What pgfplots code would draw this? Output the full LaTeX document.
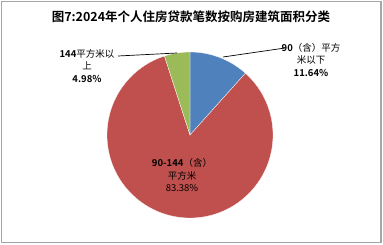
\documentclass[border=0pt]{standalone}
\usepackage{fontspec}
\setmainfont{Noto Sans CJK SC}[BoldFont=* Bold]
\usepackage{pgfplots}
\usepackage{pgfplotstable}
\pgfplotsset{compat=1.18}
\definecolor{cblue}{HTML}{4F81BD}
\definecolor{cred}{HTML}{C0504D}
\definecolor{cgreen}{HTML}{9BBB59}
% share (%), start angle, end angle (degrees, clockwise from 12 o'clock)
\pgfplotstableread{
share start end
11.64 0 41.904
83.38 41.904 342.072
4.98 342.072 360
}\piedata
\begin{document}
\begin{tikzpicture}[x=1pt,y=1pt]
\path[fill=white] (0,0) rectangle (383,244);
\draw[color=black!35, line width=1.2pt] (1.5,1.5) rectangle (381,242.5);
\node[font=\bfseries\fontsize{12.5}{14}\selectfont] at (191,227) {图7:2024年个人住房贷款笔数按购房建筑面积分类};
\begin{axis}[
  at={(190pt,109pt)}, anchor=center,
  scale only axis, width=166pt, height=166pt,
  xmin=-1, xmax=1, ymin=-1, ymax=1,
  hide axis, clip=false,
]
\pgfplotstablegetelem{0}{start}\of\piedata \let\sA\pgfplotsretval
\pgfplotstablegetelem{0}{end}\of\piedata \let\eA\pgfplotsretval
\pgfplotstablegetelem{1}{start}\of\piedata \let\sB\pgfplotsretval
\pgfplotstablegetelem{1}{end}\of\piedata \let\eB\pgfplotsretval
\pgfplotstablegetelem{2}{start}\of\piedata \let\sC\pgfplotsretval
\pgfplotstablegetelem{2}{end}\of\piedata \let\eC\pgfplotsretval
\addplot[fill=cblue, draw=white, line width=0.3pt, domain=\sA:\eA, samples=40, variable=\t] ({sin(\t)},{cos(\t)}) -- (axis cs:0,0) -- cycle;
\addplot[fill=cred, draw=white, line width=0.3pt, domain=\sB:\eB, samples=150, variable=\t] ({sin(\t)},{cos(\t)}) -- (axis cs:0,0) -- cycle;
\addplot[fill=cgreen, draw=white, line width=0.3pt, domain=\sC:\eC, samples=20, variable=\t] ({sin(\t)},{cos(\t)}) -- (axis cs:0,0) -- cycle;
\end{axis}
\draw[black, line width=0.7pt] (223,187) -- (285,196);
\draw[black, line width=0.7pt] (118,188) -- (177,191);
\node[align=center, font=\fontsize{9.5}{12.5}\selectfont] at (311,184) {\textbf{90}（含）平方\\米以下\\\textbf{11.64\%}};
\node[align=center, font=\fontsize{9.5}{12.5}\selectfont] at (87,178) {\textbf{144}平方米以\\上\\\textbf{4.98\%}};
\node[align=center, font=\fontsize{9.5}{12.5}\selectfont] at (182,69) {\textbf{90-144}（含）\\平方米\\83.38\%};
\end{tikzpicture}
\end{document}
